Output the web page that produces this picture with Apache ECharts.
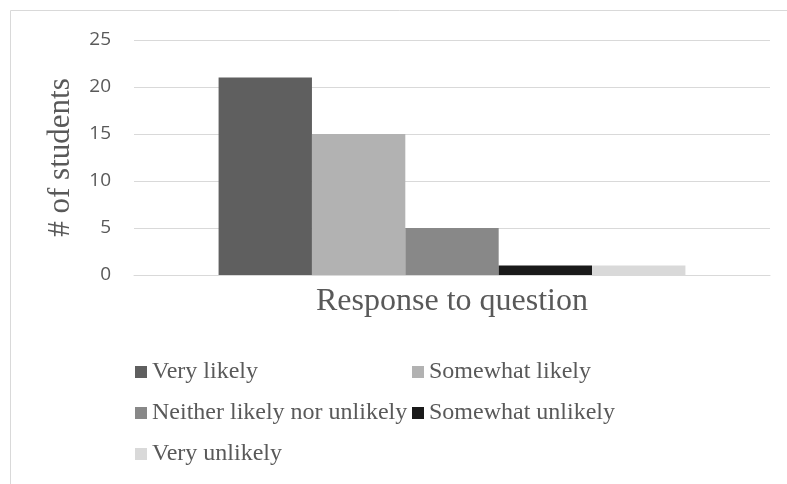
<!DOCTYPE html>
<html>
<head>
<meta charset="utf-8">
<script src="https://cdn.jsdelivr.net/npm/echarts@6/dist/echarts.min.js"></script>
<style>
  html, body { margin: 0; padding: 0; background: #fff; }
  #chart { width: 787px; height: 484px; }
</style>
</head>
<body>
<div id="chart"></div>
<script>
// Survey responses: number of students per answer
const categories = ['Response to question'];
const seriesNames = ['Very likely', 'Somewhat likely', 'Neither likely nor unlikely', 'Somewhat unlikely', 'Very unlikely'];
const seriesValues = [21, 15, 5, 1, 1];
const seriesColors = ['#5f5f5f', '#b2b2b2', '#888888', '#1a1a1a', '#d9d9d9'];
const yTicks = { min: 0, max: 25, interval: 5 };

const serif = '"Liberation Serif", "Times New Roman", serif';
const sans = '"Open Sans", "Liberation Sans", sans-serif';

const chart = echarts.init(document.getElementById('chart'));

const legendText = { fontFamily: serif, fontSize: 24, color: '#595959' };

chart.setOption({
  animation: false,
  graphic: [{
    type: 'rect',
    shape: { x: 10.5, y: 10.5, width: 800, height: 500 },
    style: { fill: 'none', stroke: '#d9d9d9', lineWidth: 1 },
    silent: true
  }],
  grid: { left: 134, top: 40, width: 636, height: 235, containLabel: false },
  xAxis: {
    type: 'category',
    data: categories,
    name: categories[0],
    nameLocation: 'middle',
    nameGap: 10,
    nameTextStyle: { fontFamily: serif, fontSize: 32, color: '#595959', verticalAlign: 'top', lineHeight: 34 },
    axisLine: { show: true, lineStyle: { color: '#d9d9d9', width: 1 } },
    axisTick: { show: false },
    axisLabel: { show: false }
  },
  yAxis: {
    type: 'value',
    min: yTicks.min,
    max: yTicks.max,
    interval: yTicks.interval,
    name: '# of students',
    nameLocation: 'middle',
    nameGap: 58,
    nameTextStyle: { fontFamily: serif, fontSize: 31, color: '#595959' },
    axisLine: { show: false },
    axisTick: { show: false },
    axisLabel: { margin: 23, fontFamily: sans, fontSize: 19, color: '#595959' },
    splitLine: { lineStyle: { color: '#d9d9d9', width: 1 } }
  },
  legend: [
    {
      left: 130, top: 355, orient: 'vertical', itemGap: 17,
      itemWidth: 12, itemHeight: 12, icon: 'rect',
      textStyle: legendText,
      data: [seriesNames[0], seriesNames[2], seriesNames[4]]
    },
    {
      left: 407, top: 355, orient: 'vertical', itemGap: 17,
      itemWidth: 12, itemHeight: 12, icon: 'rect',
      textStyle: legendText,
      data: [seriesNames[1], seriesNames[3]]
    }
  ],
  series: seriesNames.map((name, i) => ({
    name: name,
    type: 'bar',
    data: [seriesValues[i]],
    barGap: '0%',
    barCategoryGap: '26.6%',
    itemStyle: { color: seriesColors[i] }
  }))
});
</script>
</body>
</html>
